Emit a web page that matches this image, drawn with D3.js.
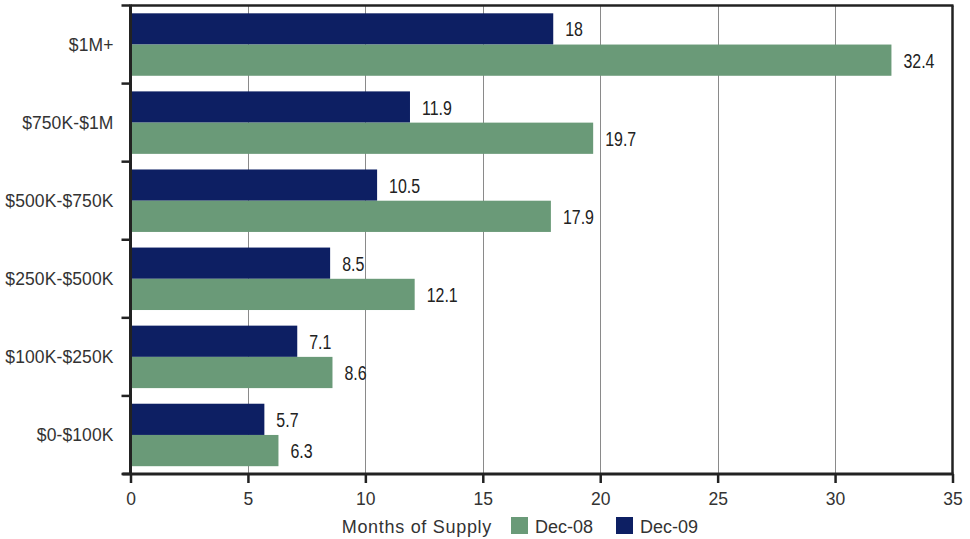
<!DOCTYPE html>
<html><head><meta charset="utf-8">
<script src="https://cdn.jsdelivr.net/npm/d3@7"></script>
<style>body{margin:0;background:#fff}svg{display:block}</style>
</head><body>
<svg id="c" width="970" height="539"></svg>
<script>
const categories = ["$1M+", "$750K-$1M", "$500K-$750K", "$250K-$500K", "$100K-$250K", "$0-$100K"];
const dec09 = [18, 11.9, 10.5, 8.5, 7.1, 5.7];
const dec08 = [32.4, 19.7, 17.9, 12.1, 8.6, 6.3];
const seriesNames = ["Dec-08", "Dec-09"];
const xTicks = [0, 5, 10, 15, 20, 25, 30, 35];
const axisTitle = "Months of Supply";

const svg = d3.select("#c");
const L = 130.5, R = 952.5, T = 5.5, B = 474;
const x = d3.scaleLinear().domain([0, 35]).range([L, R]);
const y = d3.scaleBand().domain(categories).range([T, B]).paddingInner(0.2).paddingOuter(0.1);
const sub = d3.scaleBand().domain(["Dec-09", "Dec-08"]).range([0, y.bandwidth()]);
const colors = {"Dec-08": "#6a9a78", "Dec-09": "#0d1f63"};
const mainFont = "'Liberation Sans', Arial, Helvetica, sans-serif";

// gridlines
svg.append("g").selectAll("line").data(xTicks.filter(t => t > 0 && t < 35)).join("line")
  .attr("x1", d => Math.round(x(d)) + 0.5).attr("x2", d => Math.round(x(d)) + 0.5)
  .attr("y1", T).attr("y2", B).attr("stroke", "#8a8a8a").attr("stroke-width", 1);

// bars
const rows = categories.map((c, i) => ({c, v08: dec08[i], v09: dec09[i]}));
const g = svg.append("g");
rows.forEach(r => {
  [["Dec-09", r.v09], ["Dec-08", r.v08]].forEach(([s, v]) => {
    const yy = y(r.c) + sub(s);
    g.append("rect").attr("x", x(0)).attr("y", yy).attr("width", x(v) - x(0)).attr("height", sub.bandwidth())
      .attr("fill", colors[s]);
    g.append("text")
      .attr("transform", `translate(${x(v) + 12},${yy + sub.bandwidth() / 2}) scale(0.76,1)`)
      .attr("dy", "0.36em")
      .attr("font-family", mainFont).attr("font-size", 21).attr("fill", "#222").text(v);
  });
});

// frame: top and right
svg.append("line").attr("x1", L).attr("x2", R + 1).attr("y1", T).attr("y2", T).attr("stroke", "#222").attr("stroke-width", 2.5);
svg.append("line").attr("x1", R).attr("x2", R).attr("y1", T).attr("y2", B).attr("stroke", "#222").attr("stroke-width", 2.5);

// x axis
const xa = svg.append("g").attr("transform", `translate(0,${B})`)
  .call(d3.axisBottom(x).tickValues(xTicks).tickSize(9).tickPadding(10).tickFormat(d3.format("d")));
xa.select(".domain").attr("stroke", "#222").attr("stroke-width", 3).attr("d", `M${L - 8},0H${R + 1}`);
xa.selectAll(".tick line").attr("stroke", "#222").attr("stroke-width", 2.5);
xa.selectAll(".tick text").attr("font-family", mainFont).attr("font-size", 17.5).attr("fill", "#333");

// y axis
const yTickVals = categories.map(c => y(c) - y.step() * y.paddingInner() / 2);
yTickVals.push(B);
svg.append("line").attr("x1", L).attr("x2", L).attr("y1", T - 1).attr("y2", B).attr("stroke", "#222").attr("stroke-width", 3);
svg.append("g").selectAll("line").data(yTickVals).join("line")
  .attr("x1", L - 9).attr("x2", L).attr("y1", d => d).attr("y2", d => d).attr("stroke", "#222").attr("stroke-width", 2.5);
svg.append("g").selectAll("text").data(categories).join("text")
  .attr("x", L - 17).attr("y", d => y(d) + y.bandwidth() / 2).attr("dy", "0.36em").attr("text-anchor", "end")
  .attr("font-family", mainFont).attr("font-size", 17.5).attr("letter-spacing", 0.1).attr("fill", "#333").text(d => d);

// legend
const lg = svg.append("g").attr("font-family", mainFont).attr("font-size", 18).attr("fill", "#333");
lg.append("text").attr("x", 492).attr("y", 533).attr("text-anchor", "end").attr("letter-spacing", 0.7).text(axisTitle);
const legX = {"Dec-08": 511, "Dec-09": 616};
seriesNames.forEach(s => {
  lg.append("rect").attr("x", legX[s]).attr("y", 517).attr("width", 17).attr("height", 17).attr("fill", colors[s]);
  lg.append("text").attr("x", legX[s] + 24).attr("y", 533).text(s);
});
</script>
</body></html>
